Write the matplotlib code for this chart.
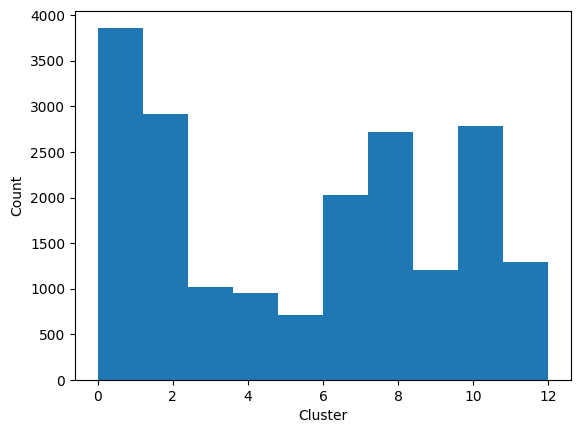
import matplotlib
matplotlib.use("Agg")
import matplotlib.pyplot as plt
import numpy as np

bin_edges = [0.0, 1.2, 2.4, 3.6, 4.8, 6.0, 7.2, 8.4, 9.6, 10.8, 12.0]
counts = [3860, 2915, 1015, 955, 713, 2030, 2720, 1205, 2785, 1295]

fig = plt.figure(figsize=(5.8, 4.33), dpi=100)
ax = fig.add_axes([75/580, 53/433, 496/580, 369.5/433])
centers = [(a + b) / 2 for a, b in zip(bin_edges[:-1], bin_edges[1:])]
ax.hist(centers, bins=bin_edges, weights=counts, color="#1f77b4")
ax.set_xlabel("Cluster")
ax.set_ylabel("Count")
fig.savefig("out.png", dpi=100)
